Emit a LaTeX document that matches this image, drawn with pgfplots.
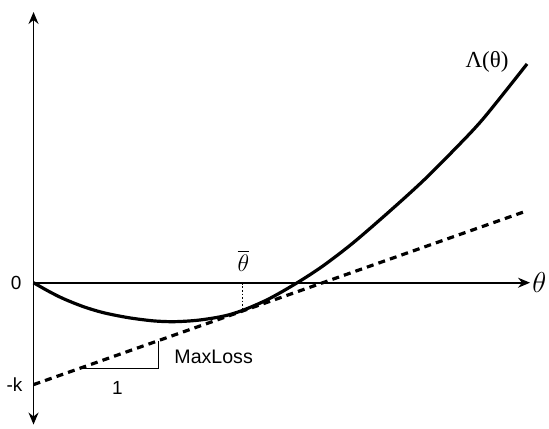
\documentclass[border=0pt]{standalone}
\usepackage{pgfplots}
\pgfplotsset{compat=1.18}
\usetikzlibrary{arrows.meta}
\usepackage{fontspec}
\setmainfont{Liberation Sans}
\newfontfamily\serifrm{Liberation Serif}

\begin{document}
\begin{tikzpicture}
\begin{axis}[
  hide axis,
  scale only axis,
  x=0.5pt, y=0.5pt,
  xmin=-33, xmax=516, ymin=-146, ymax=283,
  clip=false,
]
% axes
\draw[line width=0.8pt, -{Stealth[length=6pt,width=5pt]}] (axis cs:0,0) -- (axis cs:497,0);
\draw[line width=0.8pt, {Stealth[length=6pt,width=5pt]}-{Stealth[length=6pt,width=5pt]}] (axis cs:0,-142) -- (axis cs:0,271);

% cumulant curve Lambda(theta)
\addplot[black, line width=1.6pt, smooth, tension=0.5] coordinates {
  (0,0) (15,-8.5) (30,-16) (50,-24) (70,-30) (95,-35) (120,-38.2)
  (141,-39) (165,-37.5) (190,-33.5) (209,-27.8) (235,-16.5) (264,0)
  (290,17) (320,40) (357,72) (390,102) (420,132) (450,164) (494,219)
};

% supporting line of slope MaxLoss through -k
\addplot[black, line width=1.6pt, dash pattern=on 3.5pt off 2.6pt] coordinates {
  (0,-102) (494,72)
};

% theta-bar marker
\addplot[black, line width=0.6pt, dash pattern=on 0.9pt off 0.9pt] coordinates {(209,0) (209,-28.5)};

% slope triangle
\addplot[black, line width=0.6pt] coordinates {(47,-85.5) (125,-85.5) (125,-58)};

\node[anchor=east, font=\fontsize{9.5}{11}\selectfont] at (axis cs:-5,0) {0};
\node[anchor=east, font=\fontsize{9.5}{11}\selectfont] at (axis cs:-4,-102) {-k};
\node[anchor=west, font=\fontsize{9.8}{11}\selectfont] at (axis cs:134,-74) {MaxLoss};
\node[font=\fontsize{9.5}{11}\selectfont] at (axis cs:84,-105) {1};
\node[font=\fontsize{13}{14}\selectfont] at (axis cs:210,22) {$\overline{\theta}$};
\node[anchor=west, font=\fontsize{14}{15}\selectfont, inner sep=0pt] at (axis cs:499,0) {$\theta$};
\node[font=\serifrm\fontsize{11.5}{13}\selectfont] at (axis cs:454,221) {Λ(θ)};

\path (axis cs:-33,-146) rectangle (axis cs:516,283);
\end{axis}
\end{tikzpicture}
\end{document}
